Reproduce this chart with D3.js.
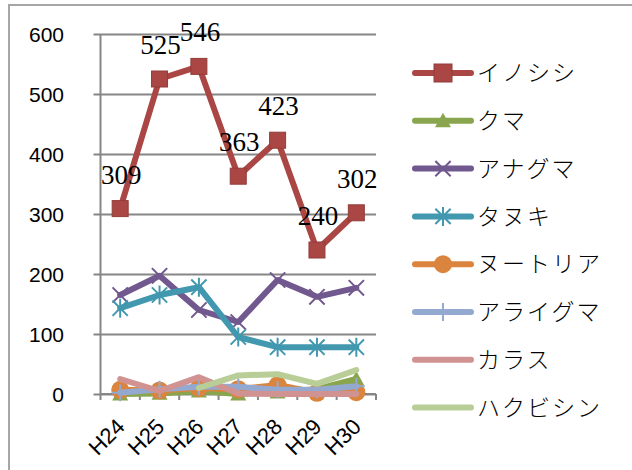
<!DOCTYPE html>
<html>
<head>
<meta charset="utf-8">
<script src="https://cdn.jsdelivr.net/npm/d3@7"></script>
<style>
  html, body { margin: 0; padding: 0; background: #fff; }
  svg { display: block; }
</style>
</head>
<body>
<svg id="chart" width="632" height="470"></svg>
<script>
// Fiscal years (Heisei era)
const years = ["H24", "H25", "H26", "H27", "H28", "H29", "H30"];
const yTicks = [0, 100, 200, 300, 400, 500, 600];

// Damage counts per species
const inoshishi  = [309, 525, 546, 363, 423, 240, 302];
const kuma       = [0, 1, 5, 0, 3, 8, 25];
const anaguma    = [165, 197, 140, 120, 190, 162, 177];
const tanuki     = [143, 165, 178, 95, 78, 78, 78];
const nutria     = [7, 6, 10, 8, 15, 2, 3];
const araiguma   = [2, 8, 12, 12, 7, 7, 13];
const karasu     = [25, 5, 28, 1, 0, 0, 0];
const hakubishin = [null, null, 10, 31, 33, 17, 40];

const seriesNames = ["イノシシ", "クマ", "アナグマ", "タヌキ", "ヌートリア", "アライグマ", "カラス", "ハクビシン"];
const seriesValues = [inoshishi, kuma, anaguma, tanuki, nutria, araiguma, karasu, hakubishin];
const seriesColors = ["#AA4643", "#89A54E", "#71588F", "#4198AF", "#DB843D", "#93A9CF", "#D19392", "#B9CD96"];
const seriesMarkers = ["square", "triangle", "x", "asterisk", "circle", "plus", "none", "none"];

const svg = d3.select("#chart");

// Outer chart frame
svg.append("rect")
  .attr("x", 9).attr("y", 5)
  .attr("width", 640).attr("height", 480)
  .attr("fill", "none")
  .attr("stroke", "#A6A6A6")
  .attr("stroke-width", 2);

const plot = { left: 100.5, right: 376, top: 34, bottom: 394 };

const x = d3.scaleBand().domain(years).range([plot.left, plot.right]).paddingInner(0).paddingOuter(0);
const cx = d => x(d) + x.bandwidth() / 2;
const y = d3.scaleLinear().domain([0, 600]).range([plot.bottom, plot.top]);

// Horizontal gridlines with left tick stubs
const yAxis = d3.axisLeft(y).tickValues(yTicks).tickSize(-(plot.right - plot.left) - 7).tickFormat(d3.format("d")).tickPadding(0);
const gy = svg.append("g").attr("transform", `translate(${plot.right},0)`).call(yAxis);
gy.select(".domain").remove();
gy.selectAll(".tick line")
  .attr("x1", -(plot.right - plot.left) - 7).attr("x2", 0)
  .attr("stroke", "#868686").attr("stroke-width", 2);
gy.selectAll(".tick text").remove();

// Y tick labels
svg.append("g").selectAll("text").data(yTicks).join("text")
  .attr("x", 64).attr("y", d => y(d))
  .attr("dy", "0.36em")
  .attr("text-anchor", "end")
  .attr("font-family", "Liberation Sans, Arial, sans-serif")
  .attr("font-size", 21)
  .attr("fill", "#000")
  .text(d => d);

// Vertical axis line
svg.append("line")
  .attr("x1", plot.left).attr("x2", plot.left)
  .attr("y1", plot.top).attr("y2", plot.bottom)
  .attr("stroke", "#868686").attr("stroke-width", 2);

// X axis with ticks at category boundaries
const bounds = years.map(d => x(d)).concat([plot.right]);
svg.append("line")
  .attr("x1", plot.left).attr("x2", plot.right)
  .attr("y1", plot.bottom).attr("y2", plot.bottom)
  .attr("stroke", "#868686").attr("stroke-width", 2);
svg.append("g").selectAll("line").data(bounds).join("line")
  .attr("x1", d => d).attr("x2", d => d)
  .attr("y1", plot.bottom).attr("y2", plot.bottom + 6)
  .attr("stroke", "#868686").attr("stroke-width", 2);

// Rotated category labels
svg.append("g").selectAll("text").data(years).join("text")
  .attr("transform", d => `translate(${cx(d) + 6},${428}) rotate(-45)`)
  .attr("text-anchor", "end")
  .attr("font-family", "Liberation Sans, Arial, sans-serif")
  .attr("font-size", 22)
  .attr("fill", "#000")
  .text(d => d);

// Marker drawing helper
function drawMarker(g, type, color, px, py, s) {
  const h = s / 2;
  if (type === "square") {
    g.append("rect").attr("x", px - h).attr("y", py - h).attr("width", s).attr("height", s)
      .attr("fill", color).attr("stroke", d3.color(color).darker(0.4)).attr("stroke-width", 1);
  } else if (type === "triangle") {
    g.append("path").attr("d", `M${px},${py - h}L${px + h},${py + h * 0.8}L${px - h},${py + h * 0.8}Z`)
      .attr("fill", color);
  } else if (type === "circle") {
    g.append("circle").attr("cx", px).attr("cy", py).attr("r", h).attr("fill", color);
  } else if (type === "x" || type === "asterisk") {
    const k = h * 0.9;
    g.append("path").attr("d", `M${px - k},${py - k}L${px + k},${py + k}M${px - k},${py + k}L${px + k},${py - k}` +
      (type === "asterisk" ? `M${px},${py - h - 1}L${px},${py + h + 1}` : ""))
      .attr("stroke", color).attr("stroke-width", 2).attr("fill", "none");
  } else if (type === "plus") {
    g.append("path").attr("d", `M${px - h},${py}L${px + h},${py}M${px},${py - h}L${px},${py + h}`)
      .attr("stroke", color).attr("stroke-width", 2).attr("fill", "none");
  }
}

const markerSize = { square: 16, triangle: 16, x: 17, asterisk: 17, circle: 18, plus: 17 };

// Lines and markers
const line = d3.line()
  .defined(d => d.v !== null)
  .x(d => cx(d.year))
  .y(d => y(d.v));

const linesG = svg.append("g");
seriesValues.forEach((vals, i) => {
  const pts = years.map((yr, j) => ({ year: yr, v: vals[j] }));
  const g = linesG.append("g");
  g.append("path")
    .attr("d", line(pts))
    .attr("fill", "none")
    .attr("stroke", seriesColors[i])
    .attr("stroke-width", 6)
    .attr("stroke-linejoin", "round")
    .attr("stroke-linecap", "round");
  if (seriesMarkers[i] !== "none") {
    pts.filter(p => p.v !== null).forEach(p => {
      drawMarker(g, seriesMarkers[i], seriesColors[i], cx(p.year), y(p.v), markerSize[seriesMarkers[i]]);
    });
  }
});

// Data labels for イノシシ
svg.append("g").selectAll("text").data(years.map((yr, j) => ({ year: yr, v: inoshishi[j] }))).join("text")
  .attr("x", d => cx(d.year) + 1)
  .attr("y", d => y(d.v) - 25)
  .attr("text-anchor", "middle")
  .attr("font-family", "Liberation Serif, Times New Roman, serif")
  .attr("font-size", 27)
  .attr("fill", "#000")
  .text(d => d.v);

// Legend
const legend = svg.append("g");
seriesNames.forEach((name, i) => {
  const ly = 73 + i * 47.8;
  const g = legend.append("g");
  g.append("line")
    .attr("x1", 415).attr("x2", 471)
    .attr("y1", ly).attr("y2", ly)
    .attr("stroke", seriesColors[i])
    .attr("stroke-width", 6)
    .attr("stroke-linecap", "round");
  if (seriesMarkers[i] !== "none") {
    const t = seriesMarkers[i];
    if (t === "plus") {
      g.append("path").attr("d", `M443,${ly - 9}L443,${ly + 9}`).attr("stroke", seriesColors[i]).attr("stroke-width", 2);
    } else {
      drawMarker(g, t, seriesColors[i], 443, ly, t === "square" ? 18 : markerSize[t]);
    }
  }
  g.append("text")
    .attr("x", 477).attr("y", ly)
    .attr("dy", "0.36em")
    .attr("font-family", "Noto Sans CJK JP, sans-serif")
    .attr("font-weight", 300)
    .attr("font-size", 23)
    .attr("letter-spacing", 2)
    .attr("fill", "#000")
    .text(name);
});
</script>
</body>
</html>
